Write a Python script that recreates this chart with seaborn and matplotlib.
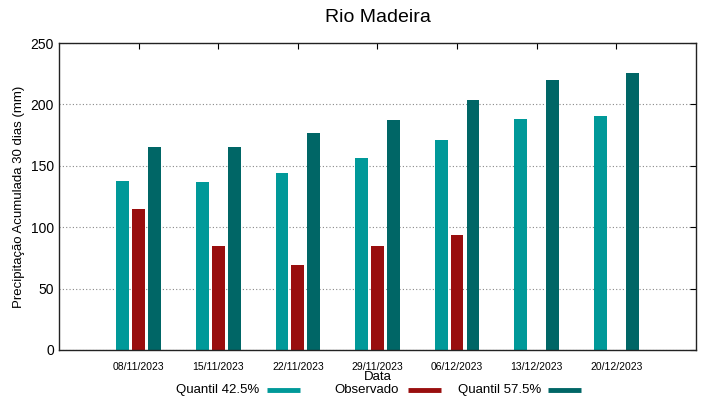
import pandas as pd
import numpy as np
import seaborn as sns
import matplotlib.pyplot as plt
from matplotlib.lines import Line2D

# Chart data
datas = ["08/11/2023", "15/11/2023", "22/11/2023", "29/11/2023",
         "06/12/2023", "13/12/2023", "20/12/2023"]
quantil_425 = [138, 137, 144, 156, 171, 188, 191]
observado = [115, 85, 69, 85, 94, np.nan, np.nan]
quantil_575 = [165, 165, 177, 187, 204, 220, 226]

series = ["Quantil 42.5%", "Observado", "Quantil 57.5%"]
colors = ["#009999", "#990e0e", "#006666"]

# Long format for seaborn
df = pd.DataFrame({
    "Data": datas * 3,
    "valor": quantil_425 + observado + quantil_575,
    "serie": [series[0]] * 7 + [series[1]] * 7 + [series[2]] * 7,
})

sns.set_style("white", {"text.color": "black", "axes.labelcolor": "black",
                        "xtick.color": "black", "ytick.color": "black"})
plt.rcParams["font.family"] = ["Liberation Sans", "DejaVu Sans"]

W, H = 719, 399
fig = plt.figure(figsize=(W / 100, H / 100), dpi=100)
ax = fig.add_axes([0.082, 0.123, 0.886, 0.769])

sns.barplot(data=df, x="Data", y="valor", hue="serie", order=datas,
            hue_order=series, palette=colors, width=0.6, gap=0.2,
            saturation=1, legend=False, linewidth=0, edgecolor="none", ax=ax)

ax.set_xlim(-1, 7)
ax.set_ylim(0, 250)
ax.set_yticks([0, 50, 100, 150, 200, 250])
ax.yaxis.grid(True, linestyle=(0, (1, 2)), color="#888888", linewidth=0.8)
ax.set_axisbelow(True)

ax.tick_params(axis="x", direction="in", top=True, labelsize=7.5, length=4, pad=9)
ax.tick_params(axis="y", direction="in", right=True, labelsize=10, length=4)
for s in ax.spines.values():
    s.set_color("#222222")
    s.set_linewidth(1)

ax.set_title("Rio Madeira", fontsize=14, pad=15)
ax.set_ylabel("Precipitação Acumulada 30 dias (mm)", fontsize=9.5)
ax.set_xlabel("Data", fontsize=9.5, labelpad=-1)

# gnuplot-style key: text right-aligned, sample after it
text_right = [259, 399, 541]
sample_x = [(267, 300), (408, 441), (548, 581)]
key_y = 1 - 390 / H
for lab, c, tr, (x0, x1) in zip(series, colors, text_right, sample_x):
    fig.text(tr / W, key_y, lab, ha="right", va="center", fontsize=9.5)
    fig.add_artist(Line2D([x0 / W, x1 / W], [key_y, key_y], color=c,
                          linewidth=3.5, solid_capstyle="butt",
                          transform=fig.transFigure))

fig.savefig("out.png", dpi=100)
